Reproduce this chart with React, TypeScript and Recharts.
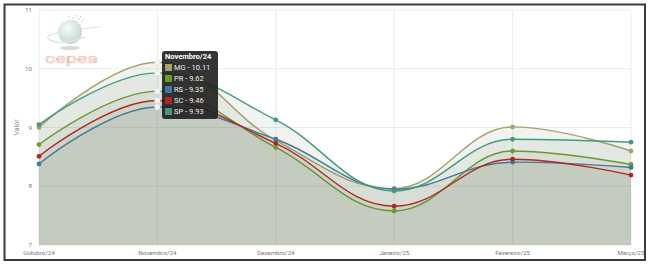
import React from 'react';
import {
  AreaChart,
  Area,
  XAxis,
  YAxis,
  CartesianGrid,
  Tooltip
} from 'recharts';

const months = ['Outubro/24', 'Novembro/24', 'Dezembro/24', 'Janeiro/25', 'Fevereiro/25', 'Março/25'];
const mg = [9.0, 10.11, 8.78, 7.96, 9.01, 8.6];
const pr = [8.71, 9.62, 8.66, 7.58, 8.6, 8.37];
const rs = [8.38, 9.35, 8.8, 7.95, 8.41, 8.32];
const sc = [8.51, 9.46, 8.73, 7.66, 8.46, 8.19];
const sp = [9.05, 9.93, 9.13, 7.92, 8.8, 8.75];
const yTicks = [7, 8, 9, 10, 11];

const series = [
  { key: 'MG', color: '#a5a36c' },
  { key: 'PR', color: '#6a9c2c' },
  { key: 'RS', color: '#3f78a5' },
  { key: 'SC', color: '#b5231d' },
  { key: 'SP', color: '#449a7c' }
];

const data = months.map((m, i) => ({
  month: m,
  MG: mg[i],
  PR: pr[i],
  RS: rs[i],
  SC: sc[i],
  SP: sp[i]
}));

const FONT = 'Roboto, "DejaVu Sans", sans-serif';

// spline like the one highcharts draws (smoothing 1.5, no overshoot at extremes)
class SplineCurve {
  _context: any;
  _line = NaN;
  _pts: number[][] = [];
  constructor(context: any) {
    this._context = context;
  }
  areaStart() {
    this._line = 0;
  }
  areaEnd() {
    this._line = NaN;
  }
  lineStart() {
    this._pts = [];
  }
  point(x: number, y: number) {
    this._pts.push([+x, +y]);
  }
  lineEnd() {
    const p = this._pts;
    const n = p.length;
    const ctx = this._context;
    if (n) {
      if (this._line) ctx.lineTo(p[0][0], p[0][1]);
      else ctx.moveTo(p[0][0], p[0][1]);
      const left: (number[] | null)[] = [];
      const right: (number[] | null)[] = [];
      for (let i = 0; i < n; i++) {
        if (i === 0 || i === n - 1) {
          left.push(null);
          right.push(null);
          continue;
        }
        const [px, py] = p[i];
        const [lx, ly] = p[i - 1];
        const [nx, ny] = p[i + 1];
        const lcx = (1.5 * px + lx) / 2.5;
        let lcy = (1.5 * py + ly) / 2.5;
        const rcx = (1.5 * px + nx) / 2.5;
        let rcy = (1.5 * py + ny) / 2.5;
        if (rcx !== lcx) {
          const corr = ((rcy - lcy) * (rcx - px)) / (rcx - lcx) + py - rcy;
          lcy += corr;
          rcy += corr;
          if (lcy > ly && lcy > py) {
            lcy = Math.max(ly, py);
            rcy = 2 * py - lcy;
          } else if (lcy < ly && lcy < py) {
            lcy = Math.min(ly, py);
            rcy = 2 * py - lcy;
          }
          if (rcy > ny && rcy > py) {
            rcy = Math.max(ny, py);
            lcy = 2 * py - rcy;
          } else if (rcy < ny && rcy < py) {
            rcy = Math.min(ny, py);
            lcy = 2 * py - rcy;
          }
        }
        left.push([lcx, lcy]);
        right.push([rcx, rcy]);
      }
      for (let i = 1; i < n; i++) {
        const a = right[i - 1] || p[i - 1];
        const b = left[i] || p[i];
        ctx.bezierCurveTo(a[0], a[1], b[0], b[1], p[i][0], p[i][1]);
      }
    }
    if (this._line || (this._line !== 0 && n === 1)) ctx.closePath();
    this._line = 1 - this._line;
  }
}

const spline: any = (context: any) => new SplineCurve(context);

const makeDot = (color: string) => (props: any) => {
  const { cx, cy, index } = props;
  if (cx == null || cy == null) return <g key={`d-${index}`} />;
  const hovered = index === 1;
  return (
    <circle
      key={`d-${index}`}
      cx={cx}
      cy={cy}
      r={hovered ? 2.8 : 2.4}
      fill={hovered ? '#f4f4f4' : color}
      stroke={hovered ? '#e0e0e0' : 'none'}
      strokeWidth={0.5}
    />
  );
};

const colorOf: Record<string, string> = {};
series.forEach(s => (colorOf[s.key] = s.color));

const TipBox = ({ active, payload, label }: any) => {
  if (!active || !payload || !payload.length) return null;
  return (
    <div
      style={{
        width: 56,
        height: 68,
        boxSizing: 'border-box',
        background: 'rgba(30,30,30,0.9)',
        borderRadius: 3,
        padding: '1px 0 0 3px',
        color: '#fff',
        fontFamily: FONT,
        fontSize: 7.5
      }}
    >
      <div style={{ fontWeight: 700, height: 9.5, lineHeight: '9.5px' }}>{label}</div>
      {payload.map((p: any) => (
        <div
          key={p.dataKey}
          style={{ display: 'flex', alignItems: 'center', height: 11.2, whiteSpace: 'nowrap' }}
        >
          <span
            style={{
              display: 'inline-block',
              width: 7,
              height: 7,
              background: colorOf[p.dataKey],
              marginRight: 2
            }}
          />
          <span style={{ color: '#eee' }}>
            {p.dataKey} - {p.value}
          </span>
        </div>
      ))}
    </div>
  );
};

const Logo = () => (
  <svg
    width={650}
    height={276}
    style={{ position: 'absolute', left: 0, top: 0, pointerEvents: 'none' }}
  >
    <defs>
      <radialGradient id="globe" cx="40%" cy="35%" r="70%">
        <stop offset="0%" stopColor="#f7fbf8" />
        <stop offset="100%" stopColor="#bcd8ca" />
      </radialGradient>
    </defs>
    <ellipse cx={70} cy={48} rx={10} ry={2} fill="#d9d9d9" />
    <path d="M50 40 Q 42 35 62 32 Q 85 28 100 27" fill="none" stroke="#e0e0e0" strokeWidth={1.2} />
    <circle cx={70} cy={32} r={12} fill="url(#globe)" />
    <path d="M49 40 Q 62 46 85 37" fill="none" stroke="#e4e4e4" strokeWidth={1.5} />
    {[
      [72, 17], [75, 15], [78, 18], [80, 16], [76, 21], [81, 21], [83, 19], [73, 20], [79, 24], [68, 16]
    ].map(([x, y], i) => (
      <rect key={i} x={x} y={y} width={1.5} height={1.5} fill="#d3ded8" />
    ))}
    <text
      x={45}
      y={63}
      fontFamily={FONT}
      fontSize={13}
      textLength={53}
      lengthAdjust="spacingAndGlyphs"
      fill="#fdf3f0"
      stroke="#ebb7aa"
      strokeWidth={0.45}
    >
      cepea
    </text>
  </svg>
);

const Frame = () => (
  <svg
    width={650}
    height={276}
    style={{ position: 'absolute', left: 0, top: 0, pointerEvents: 'none' }}
  >
    <rect x={4.5} y={4.5} width={640.5} height={255.5} fill="none" stroke="#3a3a3a" strokeWidth={2} />
  </svg>
);

export default function App() {
  return (
    <div style={{ position: 'relative', width: 650, height: 276, background: '#fff' }}>
      <style>{'body{margin:0}'}</style>
      <Logo />
      <div style={{ position: 'absolute', left: 0, top: 0 }}>
        <AreaChart
          width={650}
          height={276}
          data={data}
          margin={{ top: 10, right: 19, bottom: 11, left: 9 }}
        >
          <CartesianGrid stroke="#ececec" strokeWidth={1} />
          <XAxis
            dataKey="month"
            scale="point"
            padding={{ left: 0, right: 0 }}
            height={20}
            axisLine={false}
            tickLine={false}
            tickSize={0}
            tickMargin={6}
            interval={0}
            tick={{ fontSize: 6.2, fill: '#777', fontFamily: FONT }}
          />
          <YAxis
            type="number"
            domain={[7, 11]}
            ticks={yTicks}
            width={30}
            axisLine={false}
            tickLine={false}
            tickSize={0}
            tickMargin={7}
            tick={{ fontSize: 6.2, fill: '#777', fontFamily: FONT }}
            label={{
              value: 'Valor',
              angle: -90,
              position: 'insideLeft',
              offset: 8,
              style: { textAnchor: 'middle', fontSize: 7, fill: '#888', fontFamily: FONT }
            }}
          />
          {series.map(s => (
            <Area
              key={s.key}
              dataKey={s.key}
              name={s.key}
              type={spline}
              stroke={s.color}
              strokeWidth={1.4}
              fill="#647a5a"
              fillOpacity={0.09}
              baseValue={7}
              dot={makeDot(s.color)}
              activeDot={false}
              isAnimationActive={false}
            />
          ))}
          <Tooltip
            content={<TipBox />}
            defaultIndex={1}
            position={{ x: 162, y: 51 }}
            cursor={false}
            isAnimationActive={false}
            wrapperStyle={{ outline: 'none' }}
          />
        </AreaChart>
      </div>
      <Frame />
    </div>
  );
}
